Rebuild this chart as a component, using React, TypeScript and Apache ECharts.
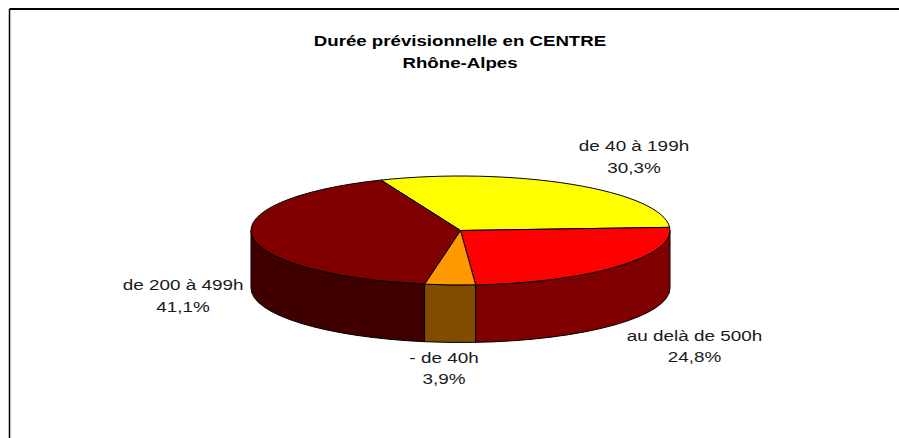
import React, { useEffect, useRef } from "react";
import * as echarts from "echarts";

const titleLines = ["Durée prévisionnelle en CENTRE", "Rhône-Alpes"];
const categories = ["de 40 à 199h", "au delà de 500h", "- de 40h", "de 200 à 499h"];
const values = [30.3, 24.8, 3.9, 41.1];
const topColors = ["#FFFF00", "#FF0000", "#FF9900", "#800000"];
const sideColors = ["#808000", "#800000", "#804C00", "#400000"];
const labelPositions = [
  [634, 146.5],
  [694.5, 336],
  [444, 358],
  [183, 285.5],
];

const CX = 460.5;
const CY = 230.5;
const RX = 209.5;
const RY = 54.5;
const DEPTH = 57.5;
const START = 247.7;
const LINE = 21.3;
const FONT = '"Liberation Sans", Arial, sans-serif';

const total = values.reduce((a, b) => a + b, 0);
const pt = (deg: number, dy = 0) => {
  const r = (deg * Math.PI) / 180;
  return `${CX + RX * Math.cos(r)} ${CY + dy + RY * Math.sin(r)}`;
};
const range = (i: number) => {
  const before = values.slice(0, i).reduce((a, b) => a + b, 0);
  return [START + (before / total) * 360, START + ((before + values[i]) / total) * 360];
};
const topPath = (i: number) => {
  const [a, b] = range(i);
  return `M ${CX} ${CY} L ${pt(a)} A ${RX} ${RY} 0 ${b - a > 180 ? 1 : 0} 1 ${pt(b)} Z`;
};
const sidePath = (i: number) => {
  const [a0, b0] = range(i);
  const a = Math.max(a0, 360);
  const b = Math.min(b0, 540);
  if (b <= a) return "";
  return `M ${pt(a)} A ${RX} ${RY} 0 0 1 ${pt(b)} L ${pt(b, DEPTH)} A ${RX} ${RY} 0 0 0 ${pt(a, DEPTH)} Z`;
};
const pct = (v: number) => `${v.toFixed(1).replace(".", ",")}%`;

const stretchedText = (text: string, x: number, y: number, bold = false) => ({
  type: "text",
  x,
  y,
  scaleX: bold ? 1.245 : 1.26,
  silent: true,
  style: {
    text,
    fill: bold ? "#000000" : "#1a1a1a",
    font: `${bold ? "bold " : ""}15px ${FONT}`,
    textAlign: "center",
    textVerticalAlign: "middle",
  },
});

export default function App() {
  const ref = useRef<HTMLDivElement>(null);
  useEffect(() => {
    document.body.style.margin = "0";
    const chart = echarts.init(ref.current!, undefined, { renderer: "svg" });
    const seriesData = categories.map((name, i) => ({ name, value: values[i] }));
    const paint = (getPath: (i: number) => string, colors: string[]) =>
      (params: any) => {
        const d = getPath(params.dataIndex);
        if (!d) return { type: "group", children: [] };
        return {
          type: "path",
          shape: { pathData: d },
          style: { fill: colors[params.dataIndex], stroke: "#000000", lineWidth: 1 },
        };
      };
    chart.setOption({
      animation: false,
      backgroundColor: "#FFFFFF",
      tooltip: { show: false },
      series: [
        { type: "custom", coordinateSystem: "none", z: 2, data: seriesData, renderItem: paint(sidePath, sideColors) },
        { type: "custom", coordinateSystem: "none", z: 3, data: seriesData, renderItem: paint(topPath, topColors) },
      ],
      graphic: [
        { type: "line", shape: { x1: 9.5, y1: 9, x2: 899, y2: 9 }, style: { stroke: "#000000", lineWidth: 2 } },
        { type: "line", shape: { x1: 9.5, y1: 9, x2: 9.5, y2: 438 }, style: { stroke: "#000000", lineWidth: 1.5 } },
        stretchedText(titleLines[0], 460, 41.5, true),
        stretchedText(titleLines[1], 460, 63, true),
        ...categories.flatMap((c, i) => [
          stretchedText(c, labelPositions[i][0], labelPositions[i][1]),
          stretchedText(pct(values[i]), labelPositions[i][0], labelPositions[i][1] + LINE),
        ]),
      ],
    });
    return () => chart.dispose();
  }, []);
  return <div ref={ref} style={{ width: 899, height: 438 }} />;
}
